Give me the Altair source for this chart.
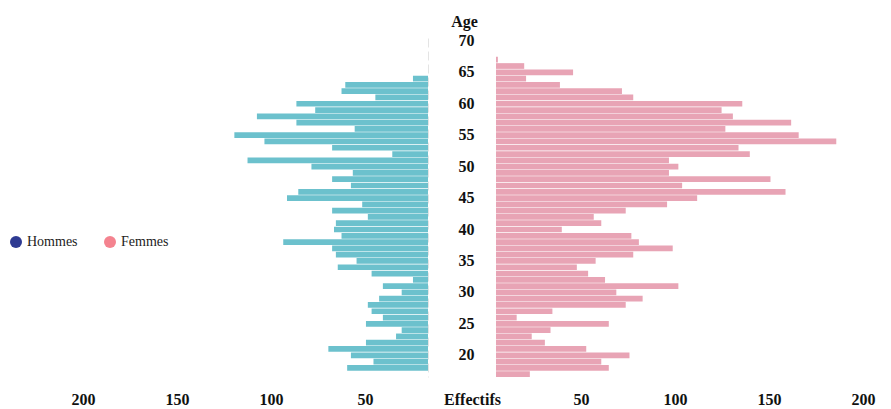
import altair as alt
import pandas as pd

# ---- data ----
ages_hommes = [64, 63, 62, 61, 60, 59, 58, 57, 56, 55,
               54, 53, 52, 51, 50, 49, 48, 47, 46, 45,
               44, 43, 42, 41, 40, 39, 38, 37, 36, 35,
               34, 33, 32, 31, 30, 29, 28, 27, 26, 25,
               24, 23, 22, 21, 20, 19, 18]
effectifs_hommes = [8, 44, 46, 28, 70, 60, 91, 70, 39, 103,
                    87, 51, 19, 96, 62, 40, 51, 41, 69, 75,
                    35, 51, 32, 49, 50, 46, 77, 51, 49, 38,
                    48, 30, 8, 24, 14, 26, 32, 30, 24, 33,
                    14, 17, 33, 53, 41, 29, 43]

ages_femmes = [67, 66, 65, 64, 63, 62, 61, 60, 59, 58,
               57, 56, 55, 54, 53, 52, 51, 50, 49, 48,
               47, 46, 45, 44, 43, 42, 41, 40, 39, 38,
               37, 36, 35, 34, 33, 32, 31, 30, 29, 28,
               27, 26, 25, 24, 23, 22, 21, 20, 19, 18,
               17]
effectifs_femmes = [1, 15, 41, 16, 34, 67, 73, 131, 120, 126,
                    157, 122, 161, 181, 129, 135, 92, 97, 92, 146,
                    99, 154, 107, 91, 69, 52, 56, 35, 72, 76,
                    94, 73, 53, 43, 49, 58, 97, 64, 78, 69,
                    30, 11, 60, 29, 19, 26, 48, 71, 56, 60,
                    18]

age_domain = [70, 69, 68, 67, 66, 65, 64, 63, 62, 61, 60, 59, 58, 57, 56, 55,
              54, 53, 52, 51, 50, 49, 48, 47, 46, 45, 44, 43, 42, 41, 40, 39,
              38, 37, 36, 35, 34, 33, 32, 31, 30, 29, 28, 27, 26, 25, 24, 23,
              22, 21, 20, 19, 18, 17]
age_ticks = [20, 25, 30, 35, 40, 45, 50, 55, 60, 65, 70]
x_ticks = [50, 100, 150, 200]
legend_labels = ["Hommes", "Femmes"]

df_h = pd.DataFrame({"Age": ages_hommes, "Effectif": effectifs_hommes})
df_f = pd.DataFrame({"Age": ages_femmes, "Effectif": effectifs_femmes})
df_leg = pd.DataFrame({"Sexe": legend_labels})

# ---- style ----
FONT = "Liberation Serif"
C_H = "#6cc1cd"
C_F = "#e8a4b5"
C_LH = "#2e3a92"
C_LF = "#f4838f"
TXT = "#111111"
W, H = 376, 339

y_scale = alt.Scale(domain=age_domain, paddingInner=0.09, paddingOuter=0)

left_bars = alt.Chart(df_h).mark_bar(color=C_H).encode(
    x=alt.X("Effectif:Q",
            scale=alt.Scale(domain=[0, 200], reverse=True, nice=False),
            axis=alt.Axis(values=x_ticks, title=None, domain=False, ticks=False,
                          tickSize=0, grid=False, labelPadding=14, labelOffset=31,
                          labelFlush=False, labelFont=FONT, labelFontSize=16,
                          labelFontWeight="bold", labelColor=TXT)),
    y=alt.Y("Age:O", scale=y_scale,
            axis=alt.Axis(orient="right", labels=False, ticks=False, title=None,
                          grid=False, domain=True, domainColor="#e4e4e4",
                          domainDash=[9, 4], domainWidth=1)),
)

legend_layer = alt.Chart(df_leg).mark_circle(opacity=0).encode(
    color=alt.Color("Sexe:N",
                    scale=alt.Scale(domain=legend_labels, range=[C_LH, C_LF]),
                    legend=alt.Legend(orient="none", legendX=-43, legendY=197,
                                      direction="horizontal", title=None,
                                      symbolType="circle", symbolSize=144,
                                      symbolOpacity=1, symbolStrokeWidth=0,
                                      labelFont=FONT, labelFontSize=14,
                                      labelColor="#222222", labelOffset=4,
                                      columnPadding=25)),
)

left = alt.layer(left_bars, legend_layer).properties(width=W, height=H)

right = alt.Chart(df_f).mark_bar(color=C_F).encode(
    x=alt.X("Effectif:Q",
            scale=alt.Scale(domain=[0, 200], nice=False),
            axis=alt.Axis(values=x_ticks, title="Effectifs", titleX=-24, titleY=14,
                          titleBaseline="top", titleAlign="center",
                          titleFont=FONT, titleFontSize=16, titleFontWeight="bold",
                          titleColor=TXT, domain=False, ticks=False, tickSize=0,
                          grid=False, labelPadding=14, labelOffset=-9, labelFlush=False,
                          labelFont=FONT, labelFontSize=16, labelFontWeight="bold",
                          labelColor=TXT)),
    y=alt.Y("Age:O", scale=y_scale,
            axis=alt.Axis(orient="left", values=age_ticks, title="Age",
                          titleAngle=0, titleX=-32, titleY=-17, titleAlign="center",
                          titleBaseline="middle", titleFont=FONT, titleFontSize=16,
                          titleFontWeight="bold", titleColor=TXT,
                          labelPadding=22, ticks=False, tickSize=0, domain=False,
                          grid=False, labelFont=FONT, labelFontSize=16,
                          labelFontWeight="bold", labelColor=TXT,
                          labelBaseline="middle")),
).properties(width=W, height=H)

chart = alt.hconcat(left, right, spacing=68, bounds="flush").properties(
    padding={"left": 1, "top": 5, "right": 5, "bottom": 0},
    background="white",
).configure_view(stroke=None)

chart.save("out.html", embed_options={"renderer": "svg", "actions": False})
